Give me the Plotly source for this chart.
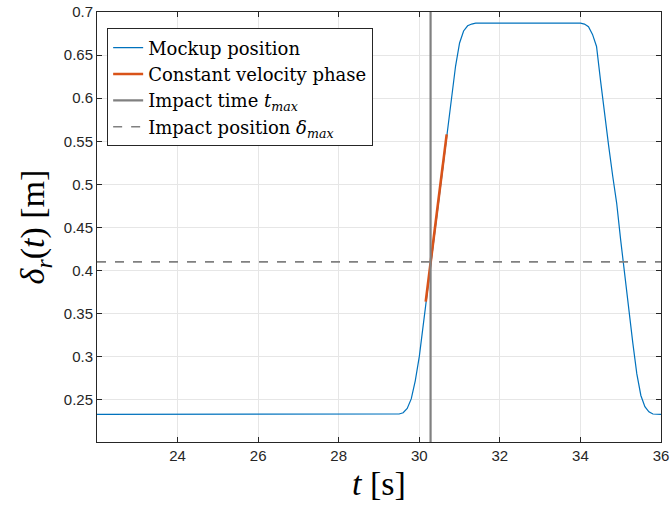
import plotly.graph_objects as go

# Mockup position
t_mock = [22.0, 29.3, 29.5, 29.6, 29.7, 29.8, 29.9, 30.0, 30.1, 30.2, 30.3, 30.4, 30.5, 30.6,
          30.7, 30.8, 30.9, 31.0, 31.1, 31.2, 31.3, 31.4, 31.5,
          34.0, 34.1, 34.2, 34.3, 34.4, 34.5, 34.6, 34.7, 34.8, 34.9, 35.0, 35.1, 35.2,
          35.3, 35.4, 35.5, 35.6, 35.7, 35.8, 35.9, 36.0]
d_mock = [0.233, 0.233, 0.2335, 0.235, 0.240, 0.251, 0.272, 0.300, 0.338, 0.377, 0.414, 0.451,
          0.488, 0.525, 0.562, 0.600, 0.637, 0.664, 0.678, 0.684, 0.686, 0.687, 0.687,
          0.687, 0.686, 0.683, 0.674, 0.660, 0.620, 0.580, 0.545, 0.510, 0.478, 0.435,
          0.393, 0.356, 0.316, 0.280, 0.255, 0.242, 0.236, 0.2335, 0.233, 0.233]

# Constant velocity phase
t_cv = [30.16, 30.68]
d_cv = [0.364, 0.558]

# Impact time and position
t_max = 30.28
delta_max = 0.41

x_range = [22, 36]
y_range = [0.201, 0.7]
x_ticks = [24, 26, 28, 30, 32, 34, 36]
y_ticks = [0.25, 0.3, 0.35, 0.4, 0.45, 0.5, 0.55, 0.6, 0.65, 0.7]
y_tick_text = ["0.25", "0.3", "0.35", "0.4", "0.45", "0.5", "0.55", "0.6", "0.65", "0.7"]

fig = go.Figure()
fig.add_trace(go.Scatter(x=t_mock, y=d_mock, mode="lines", name="Mockup position",
                         line=dict(color="#0072BD", width=1.2)))
fig.add_trace(go.Scatter(x=t_cv, y=d_cv, mode="lines", name="Constant velocity phase",
                         line=dict(color="#D95319", width=2.6)))
fig.add_trace(go.Scatter(x=[t_max, t_max], y=y_range, mode="lines",
                         name="Impact time <i>t</i><sub><i>max</i></sub>",
                         line=dict(color="#808080", width=2.2)))
fig.add_trace(go.Scatter(x=x_range, y=[delta_max, delta_max], mode="lines",
                         name="Impact position <i>δ</i><sub><i>max</i></sub>",
                         line=dict(color="#808080", width=1.6, dash="dash")))

axis_common = dict(showline=True, linecolor="#262626", linewidth=1, mirror="ticks",
                   ticks="inside", ticklen=5, tickcolor="#262626", automargin=False,
                   ticklabeloverflow="allow",
                   showgrid=True, gridcolor="#E6E6E6", gridwidth=1, zeroline=False,
                   tickfont=dict(family="Liberation Sans, Arial, sans-serif", size=15, color="#262626"))

fig.update_layout(
    width=670, height=518,
    margin=dict(l=97, r=9, t=12, b=76),
    paper_bgcolor="white", plot_bgcolor="white",
    showlegend=True,
    legend=dict(x=0.018, y=0.962, xanchor="left", yanchor="top",
                bgcolor="white", bordercolor="#262626", borderwidth=1,
                font=dict(family="DejaVu Serif, serif", size=18, color="#000000"),
                tracegroupgap=0, itemwidth=30),
    xaxis=dict(range=x_range, tickvals=x_ticks,
               title=dict(text="<i>t</i> [s]", standoff=8,
                          font=dict(family="Liberation Serif, Times New Roman, serif", size=34, color="#000000")),
               **axis_common),
    yaxis=dict(range=y_range, tickvals=y_ticks, ticktext=y_tick_text,
               title=dict(text="<i>δ</i><sub><i>r</i></sub>(<i>t</i>) [m]", standoff=8,
                          font=dict(family="Liberation Serif, Times New Roman, serif", size=34, color="#000000")),
               **axis_common),
)

# remove the default 8px page margin so the figure fills the 670x518 window
fig.write_html("out.html", config={"displayModeBar": False},
               post_script="document.body.style.margin='0';")
